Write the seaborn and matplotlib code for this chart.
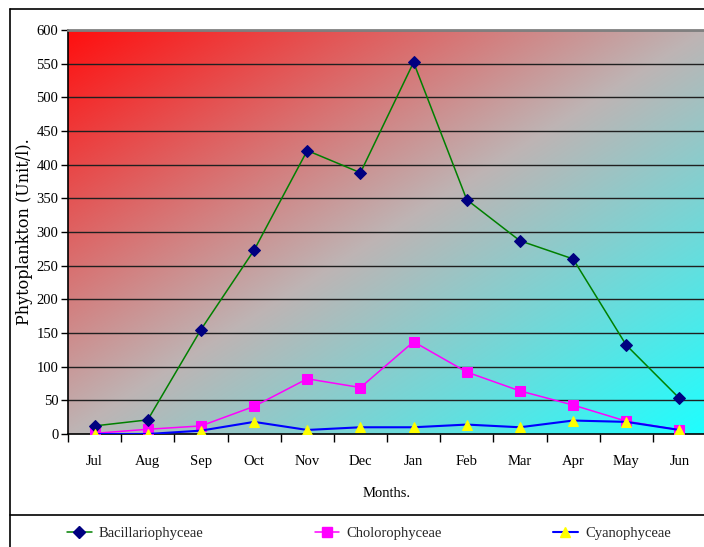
import numpy as np
import pandas as pd
import matplotlib
matplotlib.use("Agg")
import matplotlib.pyplot as plt
from matplotlib.lines import Line2D
import seaborn as sns

months = ["Jul", "Aug", "Sep", "Oct", "Nov", "Dec", "Jan", "Feb", "Mar", "Apr", "May", "Jun"]
bacillariophyceae = [12, 21, 155, 273, 421, 388, 552, 348, 287, 260, 132, 53]
cholorophyceae = [1, 7, 12, 41, 82, 69, 137, 92, 64, 43, 19, 6]
cyanophyceae = [0, 0, 5, 18, 6, 10, 10, 14, 10, 20, 18, 6]
y_ticks = list(range(0, 601, 50))

sns.set_theme(style="white")
plt.rcParams["font.family"] = ["Liberation Serif", "DejaVu Serif"]

fig = plt.figure(figsize=(7.04, 5.47), dpi=100)
ax = fig.add_axes([68 / 704, 1 - 434 / 547, 638 / 704, 404 / 547])

# diagonal red -> grey -> cyan fill behind the plot
h, w = 200, 300
yy, xx = np.mgrid[0:h, 0:w]
t = (xx / (w - 1) + yy / (h - 1)) / 2.0
c0 = np.array([255, 15, 15]) / 255
c1 = np.array([190, 180, 180]) / 255
c2 = np.array([30, 255, 255]) / 255
t3 = t[..., None]
img = np.where(t3 < 0.5, c0 + (c1 - c0) * (t3 / 0.5), c1 + (c2 - c1) * ((t3 - 0.5) / 0.5))
ax.imshow(img, extent=[0, 1, 0, 1], transform=ax.transAxes, aspect="auto", zorder=0)

df = pd.DataFrame({"Month": months, "Bac": bacillariophyceae,
                   "Chl": cholorophyceae, "Cya": cyanophyceae})

sns.lineplot(data=df, x="Month", y="Bac", sort=False, ax=ax, color="#008000", lw=1.1,
             marker="D", markersize=6, markerfacecolor="#000080", markeredgecolor="#000080",
             zorder=5)
sns.lineplot(data=df, x="Month", y="Chl", sort=False, ax=ax, color="#FF00FF", lw=1.1,
             marker="s", markersize=7, markerfacecolor="#FF00FF", markeredgecolor="#FF00FF",
             zorder=4)
sns.lineplot(data=df, x="Month", y="Cya", sort=False, ax=ax, color="#0000FF", lw=1.5,
             marker="^", markersize=7, markerfacecolor="#FFFF00", markeredgecolor="#FFFF00",
             zorder=6)

ax.set_xlim(-0.5, len(months) - 0.5)
ax.set_ylim(0, 600)
ax.set_yticks(y_ticks)
ax.set_yticklabels([str(v) for v in y_ticks])
for v in y_ticks[1:]:
    ax.axhline(v, color="#202020", lw=1.0, zorder=2)

ax.set_xticks(range(len(months)))
ax.set_xticklabels(months)
ax.set_xticks(np.arange(-0.5, len(months) - 0.4, 1.0), minor=True)
ax.tick_params(axis="x", which="major", length=0, pad=15, labelsize=10.5, colors="black")
ax.tick_params(axis="x", which="minor", length=6, width=1, color="black", direction="out")
ax.tick_params(axis="y", length=5, width=1, color="black", direction="out", pad=2,
               labelsize=10.5, colors="black")
ax.tick_params(bottom=True, left=True, which="both")

for s in ["left", "bottom"]:
    ax.spines[s].set_color("black")
    ax.spines[s].set_linewidth(1.2)
ax.spines["top"].set_color("#808080")
ax.spines["top"].set_linewidth(2)
ax.spines["right"].set_visible(False)

ax.set_xlabel("Months.", fontsize=10.5, labelpad=14, color="black")
ax.set_ylabel("Phytoplankton (Unit/l).", fontsize=11.5, labelpad=2, color="black",
              family=["DejaVu Serif"])

# outer frame and separator above the legend
frame_kw = dict(color="black", lw=1.2, transform=fig.transFigure)
fig.add_artist(Line2D([10 / 704, 10 / 704], [0, 1 - 9 / 547], **frame_kw))
fig.add_artist(Line2D([10 / 704, 1], [1 - 9 / 547, 1 - 9 / 547], **frame_kw))
fig.add_artist(Line2D([10 / 704, 1], [1 - 515 / 547, 1 - 515 / 547], **frame_kw))

handles = [
    Line2D([], [], color="#008000", lw=1.1, marker="D", markersize=6,
           markerfacecolor="#000080", markeredgecolor="#000080"),
    Line2D([], [], color="#FF00FF", lw=1.1, marker="s", markersize=7,
           markerfacecolor="#FF00FF", markeredgecolor="#FF00FF"),
    Line2D([], [], color="#0000FF", lw=1.5, marker="^", markersize=7,
           markerfacecolor="#FFFF00", markeredgecolor="#FFFF00"),
]
fig.legend(handles, ["Bacillariophyceae", "Cholorophyceae", "Cyanophyceae"],
           loc="center left", bbox_to_anchor=(67 / 704, 1 - 533 / 547), ncol=3,
           frameon=False, fontsize=10.5, handlelength=1.7, handletextpad=0.5,
           columnspacing=7.6, borderpad=0, borderaxespad=0)

fig.savefig("out.png", dpi=100)
